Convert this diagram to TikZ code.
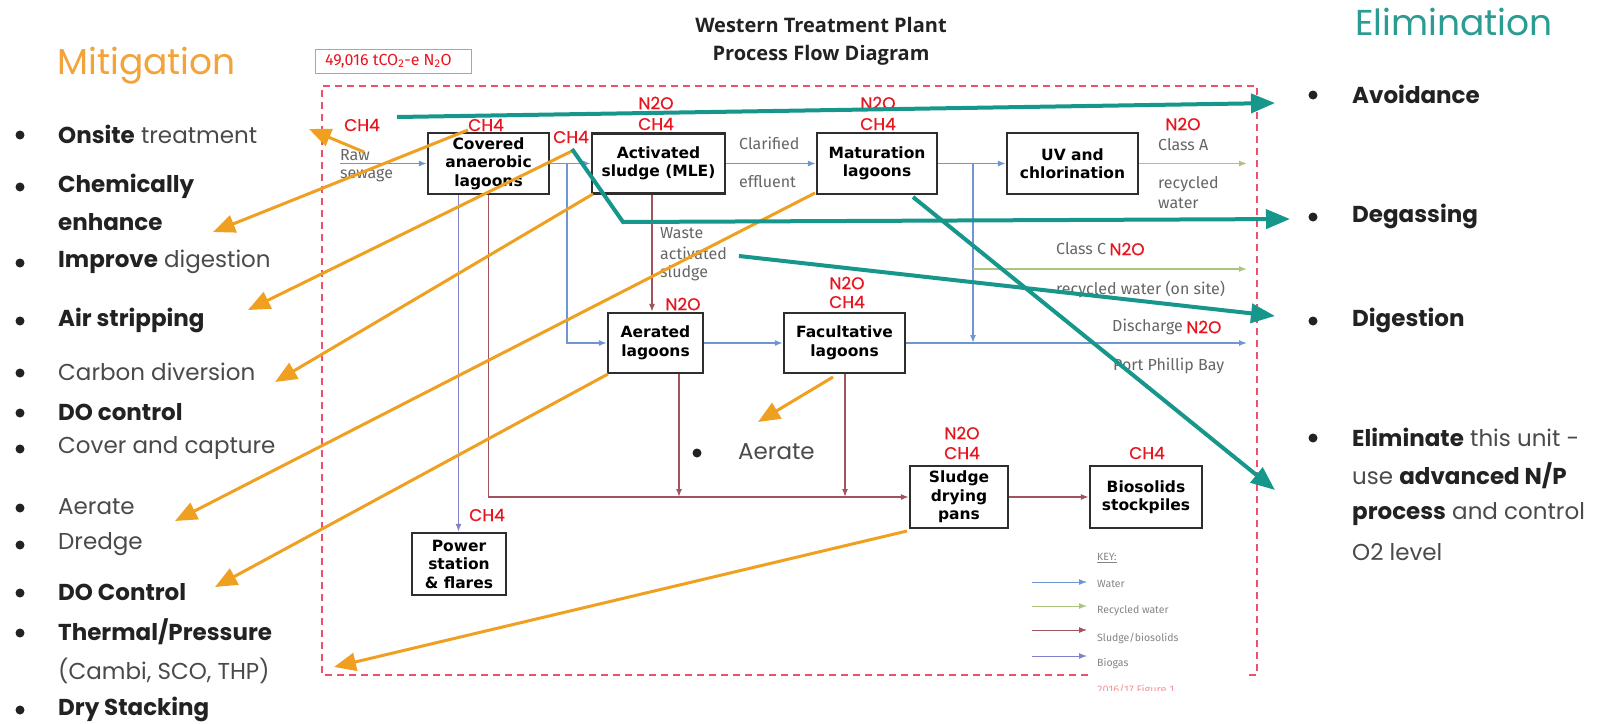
\documentclass[tikz,border=0pt]{standalone}
\usepackage{fontspec}
\setmainfont{Poppins}
\newfontfamily\boxfont{DejaVu Sans}
\newfontfamily\labfont{Fira Sans}
\newfontfamily\titfont{Open Sans}
\newfontfamily\redfont[FakeBold=0.6]{Poppins}
\usetikzlibrary{arrows.meta}
\definecolor{orng}{HTML}{F0A020}
\definecolor{mitcol}{HTML}{F2A33A}
\definecolor{teal2}{HTML}{17968C}
\definecolor{elimcol}{HTML}{2A9C92}
\definecolor{redlab}{HTML}{E8141E}
\definecolor{dashcol}{HTML}{EE4F6A}
\definecolor{watercol}{HTML}{6F95D2}
\definecolor{recyccol}{HTML}{ABC57E}
\definecolor{sludgecol}{HTML}{A2535E}
\definecolor{biogascol}{HTML}{8282CA}
\definecolor{greytxt}{HTML}{666666}
\definecolor{darktxt}{HTML}{222222}
\definecolor{lighttxt}{HTML}{4A4A4A}
\definecolor{boxcol}{HTML}{2E2E2E}
\newcommand{\mybf}[1]{{\bfseries\color{darktxt}#1}}
\begin{document}
\begin{tikzpicture}[x=1pt,y=-1pt,
  procbox/.style={draw=boxcol, line width=2.2pt, fill=white, inner sep=0pt, align=center, text=black,
    font=\boxfont\bfseries\fontsize{15.5}{18.5}\selectfont},
  redl/.style={text=redlab, inner sep=0pt, font=\redfont\fontsize{17}{17}\selectfont},
  greyl/.style={text=greytxt, inner sep=0pt, anchor=west, font=\labfont\fontsize{16}{16}\selectfont},
  keyl/.style={text=greytxt!80, inner sep=0pt, anchor=west, font=\labfont\fontsize{10.5}{10.5}\selectfont},
  litem/.style={anchor=west, inner sep=0pt, text=lighttxt, font=\fontsize{23}{23}\selectfont},
  bul/.style={circle, fill=darktxt, inner sep=0pt, minimum size=9pt},
  head/.style={anchor=west, inner sep=0pt, font=\fontsize{36}{36}\selectfont},
  waterln/.style={draw=watercol, line width=1.5pt, -{Latex[length=8pt,width=6pt]}},
  recycln/.style={draw=recyccol, line width=1.5pt, -{Latex[length=8pt,width=6pt]}},
  sludgeln/.style={draw=sludgecol, line width=1.5pt, -{Latex[length=8pt,width=6pt]}},
  biogasln/.style={draw=biogascol, line width=1.5pt, -{Latex[length=8pt,width=6pt]}},
  orarr/.style={draw=orng, line width=3pt, -{Triangle[length=22pt,width=18pt]}},
  tearr/.style={draw=teal2, line width=4pt, -{Triangle[length=24pt,width=19pt]}}
]
\useasboundingbox (0,0) rectangle (1603,723);
\fill[white] (0,0) rectangle (1603,723);

% dashed boundary
\draw[dashcol, line width=2pt, dash pattern=on 7pt off 5pt]
  (1088,675) -- (322,675) -- (322,86) -- (1257,86) -- (1257,675) -- (1248,675);

% emissions label
\node[draw=dashcol!70, line width=1pt, minimum width=156pt, minimum height=24pt, inner sep=0pt] (emis) at (393,61) {};
\node[anchor=west, inner sep=0pt, text=redlab, font=\labfont\fontsize{16}{16}\selectfont] (emistxt) at (325,61) {49,016 tCO\textsubscript{2}-e N\textsubscript{2}O};

% title
\node[inner sep=0pt, font=\titfont\bfseries\fontsize{20}{20}\selectfont, text=darktxt] (t1) at (821,25) {Western Treatment Plant};
\node[inner sep=0pt, font=\titfont\bfseries\fontsize{20}{20}\selectfont, text=darktxt] (t2) at (821,55) {Process Flow Diagram};

% process boxes
\node[procbox, minimum width=121pt, minimum height=61pt] (cov) at (488.5,163.5) {Covered\\anaerobic\\lagoons};
\node[procbox, minimum width=133pt, minimum height=60pt] (act) at (658.5,163.5) {Activated\\sludge (MLE)};
\node[procbox, minimum width=120pt, minimum height=61pt] (mat) at (877,163.5) {Maturation\\lagoons};
\node[procbox, minimum width=131pt, minimum height=61pt] (uv) at (1072.5,163.5) {UV and\\chlorination};
\node[procbox, minimum width=95pt, minimum height=60pt] (aer) at (655.5,343) {Aerated\\lagoons};
\node[procbox, minimum width=121pt, minimum height=60pt] (fac) at (844.5,343) {Facultative\\lagoons};
\node[procbox, minimum width=98pt, minimum height=62pt] (sdp) at (959,497) {Sludge\\drying\\pans};
\node[procbox, minimum width=112pt, minimum height=62pt] (bio) at (1146,497) {Biosolids\\stockpiles};
\node[procbox, minimum width=94pt, minimum height=62pt] (pow) at (459,564) {Power\\station\\\& flares};

% helper coordinates
\coordinate (rawin) at (340,163.5);
\coordinate (br1) at (567,163.5);
\coordinate (br2) at (973,163.5);
\coordinate (dj) at (973,343);
\coordinate (br3) at (973,269);
\coordinate (clA) at (1247,163.5);
\coordinate (clC) at (1247,269);
\coordinate (dis) at (1247,343);
\coordinate (wasx) at (652,0);
\coordinate (ax) at (679,0);
\coordinate (fx) at (845,0);
\coordinate (gx) at (458.5,0);

% water
\draw[waterln] (rawin) -- (cov.west);
\draw[waterln] (cov.east) -- (act.west);
\draw[waterln] (br1) |- (aer.west);
\draw[waterln] (act.east) -- (mat.west);
\draw[waterln] (mat.east) -- (uv.west);
\draw[waterln] (br2) -- (dj);
\draw[waterln] (aer.east) -- (fac.west);
\draw[waterln] (fac.east) -- (dis);
% recycled
\draw[recycln] (uv.east) -- (clA);
\draw[recycln] (br3) -- (clC);
% sludge
\draw[sludgeln] (cov.south) |- (sdp.west);
\draw[sludgeln] (act.south -| wasx) -- (aer.north -| wasx);
\draw[sludgeln] (aer.south -| ax) -- (ax |- sdp.west);
\draw[sludgeln] (fac.south -| fx) -- (fx |- sdp.west);
\draw[sludgeln] (sdp.east) -- (bio.west);
% biogas
\draw[biogasln] (cov.south -| gx) -- (pow.north -| gx);

% grey flow labels
\node[greyl] (raw) at (340,155) {Raw};
\node[greyl] (sew) at (340,176) {sewage};
\node[greyl] (clar) at (739,143) {Clarified};
\node[greyl] (eff) at (739,182) {effluent};
\node[greyl] (was1) at (660,233) {Waste};
\node[greyl] (was2) at (660,253) {activated};
\node[greyl] (was3) at (660,273) {sludge};
\node[greyl] (ca1) at (1158,145) {Class A};
\node[greyl] (ca2) at (1158,184) {recycled};
\node[greyl] (ca3) at (1158,203) {water};
\node[greyl] (cc1) at (1056,249) {Class C};
\node[greyl] (cc2) at (1056,289) {recycled water (on site)};
\node[greyl] (dc1) at (1112,327) {Discharge};
\node[greyl] (dc2) at (1113,366) {Port Phillip Bay};

% red emission labels
\node[redl] (e1) at (362,125) {CH4};
\node[redl] (e2) at (486,125) {CH4};
\node[redl] (e3) at (571,137) {CH4};
\node[redl] (e4) at (656,103) {N2O};
\node[redl] (e5) at (656,124) {CH4};
\node[redl] (e6) at (878,103) {N2O};
\node[redl] (e7) at (878,124) {CH4};
\node[redl] (e8) at (1183,124) {N2O};
\node[redl, anchor=west] (e9) at ([xshift=3pt]cc1.east) {N2O};
\node[redl, anchor=west] (e10) at ([xshift=3pt]dc1.east) {N2O};
\node[redl] (e11) at (683,304) {N2O};
\node[redl] (e12) at (847,283) {N2O};
\node[redl] (e13) at (847,302) {CH4};
\node[redl] (e14) at (962,433) {N2O};
\node[redl] (e15) at (962,453) {CH4};
\node[redl] (e16) at (1147,453) {CH4};
\node[redl] (e17) at (487,515) {CH4};

% key
\node[keyl] (keyt) at (1097,558) {\underline{KEY:}};
\coordinate (k1a) at (1032,582); \coordinate (k1b) at (1087,582);
\coordinate (k2a) at (1032,606); \coordinate (k2b) at (1087,606);
\coordinate (k3a) at (1032,630); \coordinate (k3b) at (1087,630);
\coordinate (k4a) at (1032,656); \coordinate (k4b) at (1087,656);
\draw[waterln, line width=1pt] (k1a) -- (k1b);
\draw[recycln, line width=1pt] (k2a) -- (k2b);
\draw[sludgeln, line width=1pt] (k3a) -- (k3b);
\draw[biogasln, line width=1pt] (k4a) -- (k4b);
\node[keyl] (kw) at (1097,584) {Water};
\node[keyl] (kr) at (1097,611) {Recycled water};
\node[keyl] (ks) at (1097,638) {Sludge/biosolids};
\node[keyl] (kb) at (1097,664) {Biogas};
\begin{scope}
\clip (1080,680) rectangle (1250,690.5);
\node[anchor=west, inner sep=0pt, text=redlab!45, font=\labfont\fontsize{11}{11}\selectfont] (fig) at (1097,690) {2016/17 Figure 1};
\end{scope}

% Mitigation list
\node[head, text=mitcol] (mit) at (57,66) {Mitigation};
\node[bul] (b1) at (20,135) {};
\node[litem] (m1) at (58,134) {\mybf{Onsite} treatment};
\node[bul] (b2) at (20,187) {};
\node[litem] (m2) at (58,186) {\mybf{Chemically}};
\node[litem] (m3) at (58,222) {\mybf{enhance}};
\node[bul] (b4) at (20,263) {};
\node[litem] (m4) at (58,262) {\mybf{Improve} digestion};
\node[bul] (b5) at (20,321) {};
\node[litem] (m5) at (58,320) {\mybf{Air stripping}};
\node[bul] (b6) at (20,373) {};
\node[litem] (m6) at (58,372) {Carbon diversion};
\node[bul] (b7) at (20,413) {};
\node[litem] (m7) at (58,412) {\mybf{DO control}};
\node[bul] (b8) at (20,449) {};
\node[litem] (m8) at (58,448) {Cover and capture};
\node[bul] (b9) at (20,508) {};
\node[litem] (m9) at (58,507) {Aerate};
\node[bul] (b10) at (20,545) {};
\node[litem] (m10) at (58,544) {Dredge};
\node[bul] (b11) at (20,593) {};
\node[litem] (m11) at (58,592) {\mybf{DO Control}};
\node[bul] (b12) at (20,633) {};
\node[litem] (m12) at (58,632) {\mybf{Thermal/Pressure}};
\node[litem] (m13) at (58,671) {(Cambi, SCO, THP)};
\node[bul] (b14) at (20,710) {};
\node[litem] (m14) at (58,709) {\mybf{Dry Stacking}};

% middle Aerate
\node[bul] (bm) at (697,453) {};
\node[litem] (mid) at (738,452) {Aerate};

% Elimination list
\node[head, text=elimcol] (elim) at (1355,22) {Elimination};
\node[bul] (r1b) at (1313,95) {};
\node[litem] (r1) at (1352,94) {\mybf{Avoidance}};
\node[bul] (r2b) at (1313,217) {};
\node[litem] (r2) at (1352,216) {\mybf{Degassing}};
\node[bul] (r3b) at (1313,321) {};
\node[litem] (r3) at (1352,320) {\mybf{Digestion}};
\node[bul] (r4b) at (1313,438) {};
\node[litem] (r4) at (1352,437) {\mybf{Eliminate} this unit -};
\node[litem] (r5) at (1352,476) {use \mybf{advanced N/P}};
\node[litem] (r6) at (1352,514) {\mybf{process} and control};
\node[litem] (r7) at (1352,552) {O2 level};

% orange mitigation arrows
\coordinate (o1s) at (364,152); \coordinate (o1t) at (309,129);
\coordinate (o2s) at (468,130); \coordinate (o2t) at (213,232);
\coordinate (o3s) at (572,151); \coordinate (o3t) at (248,310);
\coordinate (o4s) at (593,194); \coordinate (o4t) at (275,382);
\coordinate (o5s) at (815,193); \coordinate (o5t) at (175,521);
\coordinate (o6s) at (608,374); \coordinate (o6t) at (215,587);
\coordinate (o7s) at (833,377); \coordinate (o7t) at (758,422);
\coordinate (o8s) at (907,531); \coordinate (o8t) at (334,667);
\foreach \i in {1,...,8} { \draw[orarr] (o\i s) -- (o\i t); }

% teal elimination arrows
\coordinate (t1s) at (397,117); \coordinate (t1t) at (1275,103);
\coordinate (t2s) at (572,149); \coordinate (t2m) at (623,222); \coordinate (t2t) at (1290,219);
\coordinate (t3s) at (739,256); \coordinate (t3t) at (1275,316);
\coordinate (t4s) at (913,197); \coordinate (t4t) at (1275,490);
\draw[tearr] (t1s) -- (t1t);
\draw[tearr] (t2s) -- (t2m) -- (t2t);
\draw[tearr] (t3s) -- (t3t);
\draw[tearr] (t4s) -- (t4t);
\end{tikzpicture}
\end{document}
